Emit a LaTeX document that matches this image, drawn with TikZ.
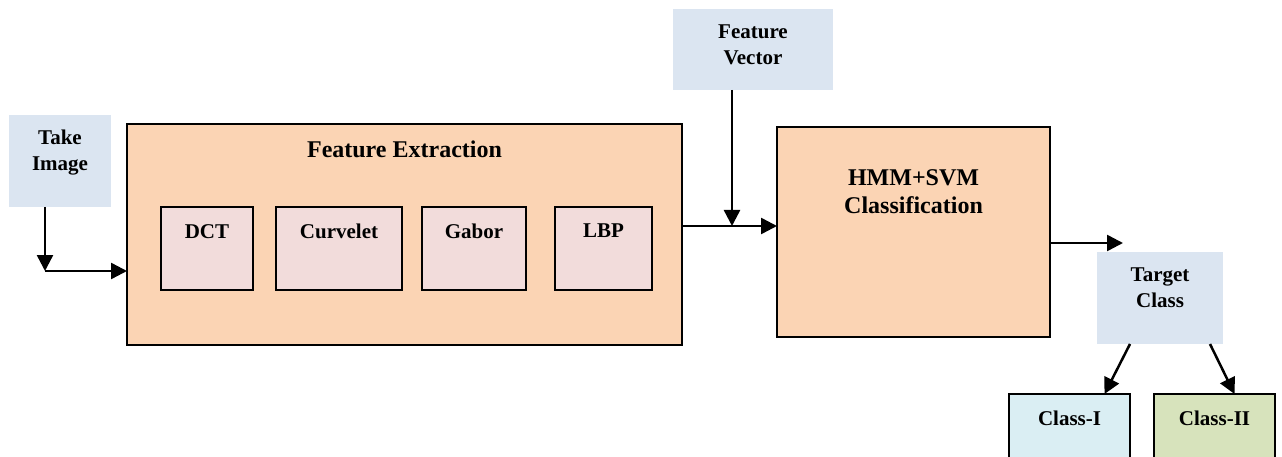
\documentclass[tikz,border=0pt]{standalone}
\usepackage{fontspec}
\setmainfont{Liberation Serif}
\usetikzlibrary{arrows.meta,calc}
\definecolor{peach}{HTML}{FBD4B4}
\definecolor{pinkbox}{HTML}{F2DCDB}
\definecolor{lblue}{HTML}{DBE5F1}
\definecolor{cyanbox}{HTML}{DAEEF3}
\definecolor{greenbox}{HTML}{D7E3BC}
\tikzset{
  box/.style={rectangle, inner sep=0pt, outer sep=0pt, anchor=north west},
  bordered/.style={draw=black, line width=1.8pt},
  smalltxt/.style={font=\fontsize{21}{26}\selectfont\bfseries, align=center, inner sep=0pt, anchor=north},
  bigtxt/.style={font=\fontsize{24}{28}\selectfont\bfseries, align=center, inner sep=0pt, anchor=north},
  arr/.style={line width=2.5pt, -{Triangle[length=16pt,width=16pt]}},
}
\begin{document}
\begin{tikzpicture}[x=1pt,y=-1pt]
\clip (0,0) rectangle (1282,457);
\fill[white] (0,0) rectangle (1282,457);

% Take Image
\node[box, fill=lblue, minimum width=102pt, minimum height=92pt,
  label={[smalltxt, yshift=-15pt]north:Take\\Image}] (take) at (9,115) {};
% Feature Extraction
\node[box, bordered, fill=peach, minimum width=555pt, minimum height=221pt,
  label={[bigtxt, yshift=-17pt]north:Feature Extraction}] (fe) at (127,124) {};
\node[box, bordered, fill=pinkbox, minimum width=92pt, minimum height=83pt,
  label={[smalltxt, yshift=-17pt]north:DCT}] (dct) at (161,207) {};
\node[box, bordered, fill=pinkbox, minimum width=126pt, minimum height=83pt,
  label={[smalltxt, yshift=-17pt]north:Curvelet}] (curv) at (276,207) {};
\node[box, bordered, fill=pinkbox, minimum width=104pt, minimum height=83pt,
  label={[smalltxt, yshift=-17pt]north:Gabor}] (gabor) at (422,207) {};
\node[box, bordered, fill=pinkbox, minimum width=97pt, minimum height=83pt,
  label={[smalltxt, yshift=-17pt]north:LBP}] (lbp) at (555,207) {};
% Feature Vector
\node[box, fill=lblue, minimum width=160pt, minimum height=81pt,
  label={[smalltxt, yshift=-16pt]north:Feature\\Vector}] (fv) at (673,9) {};
% HMM+SVM
\node[box, bordered, fill=peach, minimum width=273pt, minimum height=210pt,
  label={[bigtxt, yshift=-42pt]north:HMM+SVM\\Classification}] (hmm) at (777,127) {};
% Target Class
\node[box, fill=lblue, minimum width=126pt, minimum height=92pt,
  label={[smalltxt, yshift=-16pt]north:Target\\Class}] (tc) at (1097,252) {};
% Classes
\node[box, bordered, fill=cyanbox, minimum width=121pt, minimum height=90pt,
  label={[smalltxt, yshift=-17pt]north:Class-I}] (c1) at (1009,394) {};
\node[box, bordered, fill=greenbox, minimum width=121pt, minimum height=90pt,
  label={[smalltxt, yshift=-17pt]north:Class-II}] (c2) at (1154,394) {};

% junctions
\coordinate (j1) at (45,271);
\coordinate (j2) at (732,226);
\coordinate (j3) at (1123,243);

\draw[arr] (take.south -| j1) -- (j1);
\draw[arr] (j1) -- (j1 -| fe.west);
\draw[arr] (fv.south -| j2) -- (j2);
\draw[arr] (j2 -| fe.east) -- (j2 -| hmm.west);
\draw[arr] (hmm.east |- j3) -- (j3);
\draw[arr] ($(tc.south)+(-30,0)$) -- ($(c1.north)+(35,0)$);
\draw[arr] ($(tc.south)+(50,0)$) -- ($(c2.north)+(20,0)$);
\end{tikzpicture}
\end{document}
